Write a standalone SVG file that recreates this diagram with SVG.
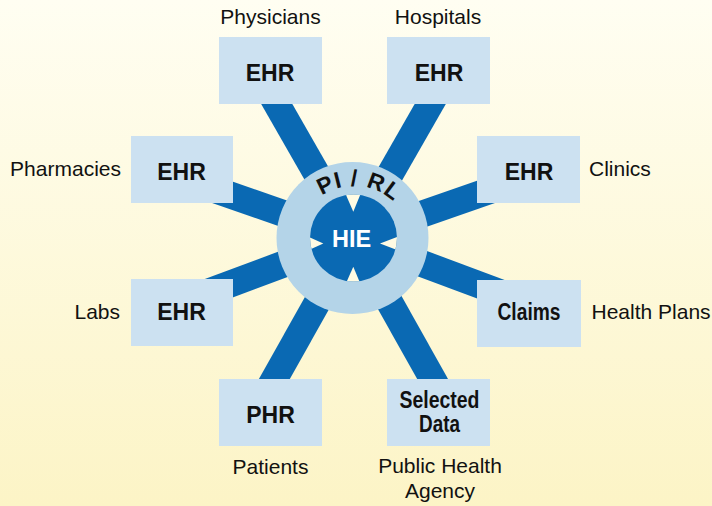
<svg xmlns="http://www.w3.org/2000/svg" width="712" height="506" viewBox="0 0 712 506">
  <defs>
    <linearGradient id="bg" x1="0" y1="0" x2="0" y2="1">
      <stop offset="0" stop-color="#fffef2"/>
      <stop offset="1" stop-color="#fcf4c6"/>
    </linearGradient>
    <clipPath id="innerClip">
      <circle cx="353.5" cy="238" r="43.5"/>
    </clipPath>
    <path id="arcText" d="M 296 244 A 58 58 0 0 1 412 244"/>
  </defs>
  <style>
    .spoke { stroke: #0a69b3; stroke-width: 27; fill: none; }
    .box { fill: #cce1f1; }
    .boxText { font-family: "Liberation Sans", Arial, sans-serif; font-weight: bold; font-size: 23px; fill: #111; text-anchor: middle; }
    .label { font-family: "Liberation Sans", Arial, sans-serif; font-size: 21px; fill: #111; }
    .notch { fill: #fffbe3; }
  </style>

  <rect width="712" height="506" fill="url(#bg)"/>

  <g id="connectors">
    <line class="spoke" x1="353.5" y1="238" x2="263" y2="80"/>
    <line class="spoke" x1="353.5" y1="238" x2="444" y2="80"/>
    <line class="spoke" x1="353.5" y1="238" x2="190" y2="181"/>
    <line class="spoke" x1="353.5" y1="238" x2="517" y2="181"/>
    <line class="spoke" x1="353.5" y1="238" x2="190" y2="299"/>
    <line class="spoke" x1="353.5" y1="238" x2="517" y2="299"/>
    <line class="spoke" x1="353.5" y1="238" x2="257" y2="410"/>
    <line class="spoke" x1="353.5" y1="238" x2="450" y2="410"/>
  </g>

  <g id="hub">
    <circle cx="352.5" cy="238" r="76" fill="#b4d4e8"/>
    <circle cx="353.5" cy="238" r="43.5" fill="#0a69b3"/>
    <g clip-path="url(#innerClip)">
      <polygon class="notch" points="343,188 363,188 353.3,211.7"/>
      <polygon class="notch" points="343,290 363,290 353.3,266.7"/>
      <polygon class="notch" points="302,234 302,253 323.3,243.5"/>
      <polygon class="notch" points="405,234 405,253 380,243.5"/>
    </g>
    <text x="351.5" y="246.5" font-family="Liberation Sans, Arial, sans-serif" font-weight="bold" font-size="23.5" fill="#ffffff" text-anchor="middle">HIE</text>
    <text font-family="Liberation Sans, Arial, sans-serif" font-weight="bold" font-size="23" fill="#111" letter-spacing="1" text-anchor="middle">
      <textPath href="#arcText" startOffset="96">PI / RL</textPath>
    </text>
  </g>

  <g id="physicians">
    <rect class="box" x="219" y="37" width="103" height="67"/>
    <text class="boxText" x="270" y="81">EHR</text>
    <text class="label" x="270.5" y="24" text-anchor="middle">Physicians</text>
  </g>
  <g id="hospitals">
    <rect class="box" x="387" y="37" width="103" height="67"/>
    <text class="boxText" x="439" y="81">EHR</text>
    <text class="label" x="438" y="24" text-anchor="middle">Hospitals</text>
  </g>
  <g id="pharmacies">
    <rect class="box" x="131" y="136" width="102" height="67"/>
    <text class="boxText" x="181.5" y="180">EHR</text>
    <text class="label" x="121" y="176" text-anchor="end">Pharmacies</text>
  </g>
  <g id="clinics">
    <rect class="box" x="477" y="136" width="103" height="67"/>
    <text class="boxText" x="529" y="180">EHR</text>
    <text class="label" x="589" y="176">Clinics</text>
  </g>
  <g id="labs">
    <rect class="box" x="131" y="279" width="102" height="67"/>
    <text class="boxText" x="181.5" y="320">EHR</text>
    <text class="label" x="120" y="319" text-anchor="end">Labs</text>
  </g>
  <g id="healthplans">
    <rect class="box" x="477" y="280" width="104" height="67"/>
    <text class="boxText" x="529" y="320" textLength="63" lengthAdjust="spacingAndGlyphs">Claims</text>
    <text class="label" x="591.5" y="319">Health Plans</text>
  </g>
  <g id="patients">
    <rect class="box" x="219" y="379" width="103" height="67"/>
    <text class="boxText" x="270.5" y="423">PHR</text>
    <text class="label" x="270.5" y="474" text-anchor="middle">Patients</text>
  </g>
  <g id="publichealth">
    <rect class="box" x="387" y="379" width="103" height="67"/>
    <text class="boxText" x="439.5" y="408" font-size="20" textLength="80" lengthAdjust="spacingAndGlyphs">Selected</text>
    <text class="boxText" x="439.5" y="432" font-size="20" textLength="41" lengthAdjust="spacingAndGlyphs">Data</text>
    <text class="label" x="440" y="473" text-anchor="middle">Public Health</text>
    <text class="label" x="440" y="498" text-anchor="middle">Agency</text>
  </g>
</svg>
